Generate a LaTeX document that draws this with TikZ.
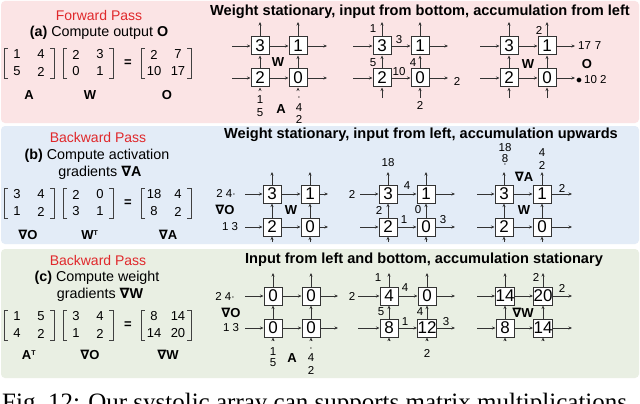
\documentclass[tikz,border=0pt]{standalone}
\usepackage{fontspec}
\setmainfont{Liberation Sans}
\newfontfamily\serifcap{Liberation Serif}
\newfontfamily\dv{DejaVu Sans}
\usetikzlibrary{arrows.meta}
\definecolor{bgred}{HTML}{FBE4E5}
\definecolor{bgblue}{HTML}{E3ECF7}
\definecolor{bggreen}{HTML}{E9EFE3}
\definecolor{pasred}{HTML}{E0282B}
\newcommand{\nab}{{\dv\char"2207}}
\newcommand{\pegrid}[9]{%
  \node[pe] (#1a) at (#2,#4) {#6};
  \node[pe] (#1b) at (#3,#4) {#7};
  \node[pe] (#1c) at (#2,#5) {#8};
  \node[pe] (#1d) at (#3,#5) {#9};
  \coordinate (#1l1) at (\xL,#4); \coordinate (#1l2) at (\xL,#5);
  \coordinate (#1r1) at (\xR,#4); \coordinate (#1r2) at (\xR,#5);
  \coordinate (#1t1) at (#2,\yT); \coordinate (#1t2) at (#3,\yT);
  \coordinate (#1b1) at (#2,\yB); \coordinate (#1b2) at (#3,\yB);
  \draw[arr] (#1l1) -- (#1a); \draw[arr] (#1a) -- (#1b); \draw[arr] (#1b) -- (#1r1);
  \draw[arr] (#1l2) -- (#1c); \draw[arr] (#1c) -- (#1d); \draw[arr] (#1d) -- (#1r2);
  \draw[arr] (#1b1) -- (#1c); \draw[arr] (#1c) -- (#1a); \draw[arr] (#1a) -- (#1t1);
  \draw[arr] (#1b2) -- (#1d); \draw[arr] (#1d) -- (#1b); \draw[arr] (#1b) -- (#1t2);
}
% matrix: name, cx, cy, entries
\newcommand{\mtx}[7]{%
  \node[mat] (#1a) at ([xshift=-12pt,yshift=8.5pt]#2,#3) {#4};
  \node[mat] (#1b) at ([xshift=12pt,yshift=8.5pt]#2,#3) {#5};
  \node[mat] (#1c) at ([xshift=-12pt,yshift=-8.5pt]#2,#3) {#6};
  \node[mat] (#1d) at ([xshift=12pt,yshift=-8.5pt]#2,#3) {#7};
  \draw[brk] ([xshift=-21pt,yshift=-15pt]#2,#3) -| ([xshift=-25pt,yshift=15pt]#2,#3) -- ++(4,0);
  \draw[brk] ([xshift=21pt,yshift=-15pt]#2,#3) -| ([xshift=25pt,yshift=15pt]#2,#3) -- ++(-4,0);
}
\begin{document}
\begin{tikzpicture}[x=1pt,y=-1pt,
  pe/.style={draw=black!80,line width=1pt,fill=white,minimum width=18pt,minimum height=18pt,inner sep=0pt,font=\fontsize{17}{17}\selectfont},
  arr/.style={-{Stealth[length=3.5pt,width=3pt]},line width=0.6pt,black!80},
  brk/.style={line width=0.9pt,black!75},
  lb/.style={font=\fontsize{11.5}{12}\selectfont,inner sep=0pt},
  bl/.style={font=\fontsize{13}{13}\selectfont\bfseries,inner sep=0pt},
  ttl/.style={font=\fontsize{14.6}{15}\selectfont\bfseries,inner sep=0pt},
  sub/.style={font=\fontsize{14.3}{15}\selectfont,inner sep=0pt},
  red/.style={font=\fontsize{14}{15}\selectfont,text=pasred,inner sep=0pt},
  mat/.style={font=\fontsize{13}{13}\selectfont,inner sep=0pt}]
\useasboundingbox (0,0) rectangle (640,404);
\clip (0,0) rectangle (640,404);
\fill[white] (0,0) rectangle (640,404);
\fill[bgred,rounded corners=4pt] (1,1) rectangle (639,123);
\fill[bgblue,rounded corners=4pt] (1,126) rectangle (639,244);
\fill[bggreen,rounded corners=4pt] (1,249) rectangle (639,378);
\node[font=\serifcap\fontsize{25}{25}\selectfont,anchor=base west,inner sep=0pt] (cap) at (2,410) {Fig.\ 12: Our systolic array can supports matrix multiplications};
% ---------- panel a
\node[red] (ra) at (99,15) {Forward Pass};
\node[sub] (sa) at (99,33) {\textbf{(a)} Compute output \textbf{O}};
\mtx{ma1}{29}{63}{1}{4}{5}{2}
\mtx{ma2}{88}{63}{2}{3}{0}{1}
\node[bl] (eqa) at (128,63) {=};
\mtx{ma3}{166}{63}{2}{7}{10}{17}
\node[bl] (la1) at (29,95) {A};
\node[bl] (la2) at (90,95) {W};
\node[bl] (la3) at (167,95) {O};
\node[ttl] (ta) at (420,12) {Weight stationary, input from bottom, accumulation from left};
\def\xL{232}\def\xR{327}\def\yT{22}\def\yB{89}
\pegrid{a1}{260}{298}{46}{78}{3}{1}{2}{0}
\def\xL{353}\def\xR{448}\def\yB{98}
\pegrid{a2}{382}{420}{46}{78}{3}{1}{2}{0}
\def\xL{480}\def\xR{575}
\pegrid{a3}{509}{547}{46}{78}{3}{1}{2}{0}
\node[bl] at (278,62) {W};
\node[lb] at (260,100) {1}; \node[lb] at (260,113) {5};
\node[bl] at (281,109) {A};
\node[lb] at (299,98) {$\cdot$}; \node[lb] at (299,108) {4}; \node[lb] at (299,119) {2};
\node[lb] at (373,29) {1}; \node[lb] at (399,40) {3};
\node[lb] at (373,63) {5}; \node[lb] at (399,72) {10}; \node[lb] at (413,63) {4};
\node[lb] at (457,81) {2}; \node[lb] at (420,105) {2};
\node[lb] at (539,30) {2}; \node[lb,anchor=west] at (578,46) {17\,\,7};
\node[bl] at (528,64) {W}; \node[bl] at (587,64) {O};
\node[lb,anchor=west] at (576,80) {$\bullet$\,10 2};
% ---------- panel b
\node[red] (rb) at (98,137) {Backward Pass};
\node[sub] (sb) at (97,156) {\textbf{(b)} Compute activation};
\node[sub] (sb2) at (100,173) {gradients \textbf{\nab A}};
\mtx{mb1}{29}{203}{3}{4}{1}{2}
\mtx{mb2}{88}{203}{2}{0}{3}{1}
\node[bl] (eqb) at (128,203) {=};
\mtx{mb3}{166}{203}{18}{4}{8}{2}
\node[bl] at (28,235) {\nab O};
\node[bl] at (90,235) {W\textsuperscript{\fontsize{7}{7}\selectfont T}};
\node[bl] at (168,235) {\nab A};
\node[ttl] (tb) at (421,135) {Weight stationary, input from left, accumulation upwards};
\def\xL{245}\def\xR{328}\def\yT{172}\def\yB{242}
\pegrid{b1}{272}{310}{194}{227}{3}{1}{2}{0}
\def\xL{360}\def\xR{455}
\pegrid{b2}{388}{426}{194}{227}{3}{1}{2}{0}
\def\xL{477}\def\xR{572}
\pegrid{b3}{504}{542}{194}{227}{3}{1}{2}{0}
\node[lb] at (226,193) {2 4$\cdot$};
\node[bl] at (225,210) {\nab O};
\node[bl] at (291,210) {W};
\node[lb] at (230,227) {1 3};
\node[lb] at (388,163) {18}; \node[lb] at (352,194) {2};
\node[lb] at (407,186) {4}; \node[lb] at (379,210) {2};
\node[lb] at (418,210) {0}; \node[lb] at (404,220) {1};
\node[lb] at (443,220) {3};
\node[lb] at (505,148) {18}; \node[lb] at (505,159) {8};
\node[lb] at (505,165) {$\cdot$};
\node[bl] at (524,177) {\nab A};
\node[lb] at (542,153) {4}; \node[lb] at (542,165) {2};
\node[lb] at (562,188) {2};
\node[bl] at (524,210) {W};
% ---------- panel c
\node[red] (rc) at (98,260) {Backward Pass};
\node[sub] (sc) at (97,278) {\textbf{(c)} Compute weight};
\node[sub] (sc2) at (100,295) {gradients \textbf{\nab W}};
\mtx{mc1}{29}{325}{1}{5}{4}{2}
\mtx{mc2}{88}{325}{3}{4}{1}{2}
\node[bl] (eqc) at (128,325) {=};
\mtx{mc3}{166}{325}{8}{14}{14}{20}
\node[bl] at (29,355) {A\textsuperscript{\fontsize{7}{7}\selectfont T}};
\node[bl] at (90,355) {\nab O};
\node[bl] at (168,355) {\nab W};
\node[ttl] (tc) at (424,260) {Input from left and bottom, accumulation stationary};
\def\xL{245}\def\xR{338}\def\yT{273}\def\yB{341}
\pegrid{c1}{273}{311}{296}{328}{0}{0}{0}{0}
\def\xL{358}\def\xR{455}
\pegrid{c2}{389}{427}{296}{328}{4}{0}{8}{12}
\def\xL{477}\def\xR{572}
\pegrid{c3}{505}{543}{296}{328}{14}{20}{8}{14}
\node[lb] at (225,296) {2 4$\cdot$};
\node[bl] at (231,313) {\nab O};
\node[lb] at (231,328) {1 3};
\node[lb] at (273,352) {1}; \node[lb] at (273,363) {5};
\node[bl] at (292,358) {A};
\node[lb] at (311,349) {$\cdot$}; \node[lb] at (311,358) {4}; \node[lb] at (311,370) {2};
\node[lb] at (378,278) {1}; \node[lb] at (405,288) {4};
\node[lb] at (352,296) {2}; \node[lb] at (381,312) {5};
\node[lb] at (420,312) {4}; \node[lb] at (405,322) {1};
\node[lb] at (446,322) {3}; \node[lb] at (427,353) {2};
\node[lb] at (536,277) {2}; \node[lb] at (562,288) {2};
\node[bl] at (523,313) {\nab W};
\end{tikzpicture}
\end{document}
